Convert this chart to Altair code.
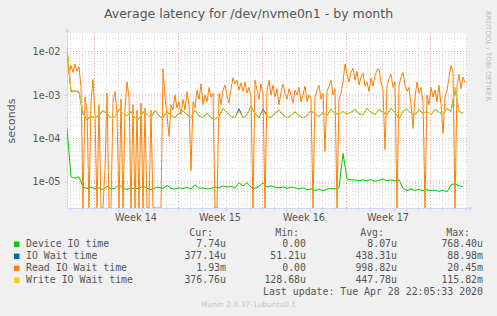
import altair as alt
import pandas as pd

TITLE = "Average latency for /dev/nvme0n1 - by month"
SERIES = ["Device IO time", "IO Wait time", "Read IO Wait time", "Write IO Wait time"]
COLORS = ["#00CC00", "#0066B3", "#FF8000", "#FFCC00"]
CUR = ["7.74u", "377.14u", "1.93m", "376.76u"]
MIN = ["0.00", "51.21u", "0.00", "128.68u"]
AVG = ["8.07u", "438.31u", "998.82u", "447.78u"]
MAX = ["768.40u", "88.98m", "20.45m", "115.82m"]
HEADERS = ["Cur:", "Min:", "Avg:", "Max:"]
WEEKS = ["Week 14", "Week 15", "Week 16", "Week 17"]
YTICKS = [1e-5, 1e-4, 1e-3, 1e-2]
LAST_UPDATE = "Last update: Tue Apr 28 22:05:33 2020"
FOOTER = "Munin 2.0.37-1ubuntu0.1"
WATERMARK = "RRDTOOL / TOBI OETIKER"

# time axis in days from the left edge of the graph
SPAN_DAYS = 400 / 12
FIRST_MIDNIGHT = 0.25
WEEK_START_DAYS = [2, 9, 16, 23, 30]   # Mondays (day index after first midnight)

# values in microseconds
# sampled every 8 hours
device_us = [170, 13, 12, 13, 7.5, 7, 7.5, 6.8, 7.2, 6.5,
             7.8, 6.8, 7, 8.5, 7, 6.6, 7.2, 6.8, 7, 8,
             7, 6.5, 7.2, 7.5, 7, 8.2, 7, 6.8, 7.2, 6.9,
             7.5, 6.7, 8.5, 7, 7.2, 6.8, 7, 7.5, 7.2, 8,
             7.5, 7.8, 7.2, 9.5, 8, 9.5, 7.5, 7, 7.8, 9.5,
             7.5, 8, 7.5, 7.2, 7.6, 7, 7.5, 7.2, 6.8, 7.2,
             6.5, 6.8, 6.3, 6.6, 6.2, 6.7, 7, 6.8, 7.2, 45,
             11.5, 11, 11, 10.5, 11, 10.5, 11.2, 10.2, 10.8, 11.5,
             10.5, 11, 10.5, 11, 7, 6.2, 6.8, 6.3, 6.6, 6.2,
             6.5, 6.2, 6.4, 6, 6.3, 5.8, 8.5, 9, 8, 7.74]

iowait_us = [12000, 1200, 1250, 1150, 380, 270, 320, 300, 340, 440,
             370, 300, 320, 470, 380, 330, 410, 300, 280, 410,
             360, 300, 440, 330, 300, 410, 340, 300, 380, 440,
             350, 300, 450, 330, 300, 380, 300, 280, 320, 490,
             400, 320, 300, 480, 300, 350, 540, 380, 300, 470,
             330, 300, 380, 450, 350, 300, 330, 410, 330, 300,
             330, 440, 360, 320, 400, 330, 470, 380, 350, 420,
             360, 400, 470, 370, 350, 490, 400, 350, 470, 400,
             350, 490, 400, 280, 420, 470, 380, 350, 450, 380,
             420, 350, 470, 400, 360, 490, 420, 1400, 420, 377]

write_us = [14000, 1250, 1250, 1200, 400, 280, 330, 300, 350, 450,
            380, 300, 320, 480, 380, 330, 420, 300, 280, 420,
            360, 300, 450, 330, 300, 420, 340, 300, 380, 450,
            350, 300, 460, 330, 300, 380, 300, 280, 320, 500,
            400, 320, 300, 420, 300, 350, 550, 380, 300, 420,
            330, 300, 380, 460, 350, 300, 330, 420, 330, 300,
            330, 450, 360, 320, 400, 330, 480, 380, 350, 420,
            360, 400, 480, 370, 350, 500, 400, 350, 480, 400,
            350, 500, 400, 280, 420, 480, 380, 350, 460, 380,
            420, 350, 480, 400, 360, 500, 420, 1500, 420, 377]

# sampled every 4 hours
read_us = [10000, 3000, 4800, 3300, 5200, 3500, 4500, 1500, 0, 900,
           450, 0, 700, 2300, 350, 0, 600, 0, 0, 20,
           1100, 0, 0, 700, 1200, 400, 0, 800, 0, 500,
           2000, 900, 0, 600, 0, 450, 0, 650, 0, 500,
           0, 0, 450, 0, 0, 0, 0, 0, 4000, 900,
           350, 110, 600, 450, 1000, 500, 700, 350, 800, 450,
           1200, 600, 18, 700, 500, 1300, 800, 1800, 600, 1000,
           700, 1500, 900, 1100, 0, 0, 1100, 600, 1300, 1700,
           1000, 650, 1400, 2500, 1800, 2200, 1300, 1900, 1200, 2000,
           1100, 1500, 900, 0, 2200, 1300, 800, 1800, 1100, 0,
           1200, 2200, 1000, 1700, 900, 1400, 600, 1200, 1800, 1100,
           800, 1400, 1000, 650, 1300, 1000, 1500, 700, 1000, 1600,
           700, 1000, 800, 0, 900, 1300, 1700, 800, 1100, 50,
           1200, 1600, 2200, 1000, 1400, 0, 800, 1100, 2000, 5200,
           3000, 2000, 3300, 4200, 2200, 3500, 1700, 2600, 3200, 1600,
           2000, 1200, 2500, 1600, 2800, 3800, 4000, 2000, 1300, 55,
           1600, 2400, 3000, 1500, 2000, 0, 1700, 2600, 3300, 1700,
           1200, 1500, 600, 170, 900, 2000, 1100, 1500, 700, 0,
           1000, 600, 1500, 900, 1300, 700, 1700, 600, 130, 900,
           1300, 2500, 4800, 3500, 0, 1600, 3000, 1400, 2600, 1930]

AXIS = "#CFD6F8"
FONT_C = "#555555"
GRID_C = "#d2d2d2"
MGRID_C = "#f0a0a0"
YDOM = [2.47e-6, 2.70e-2]


def series_df(vals, step):
    return pd.DataFrame({"t": [i * step for i in range(len(vals))], "us": vals})


x_enc = alt.X("t:Q",
              scale=alt.Scale(domain=[0, SPAN_DAYS], nice=False, zero=False),
              axis=alt.Axis(values=[FIRST_MIDNIGHT + k for k in range(34)], labels=False,
                            ticks=True, tickSize=3, tickColor=AXIS, domainColor=AXIS,
                            grid=False, title=None))
y_enc = alt.Y("v:Q",
              scale=alt.Scale(type="log", domain=YDOM, nice=False, clamp=True),
              axis=alt.Axis(values=YTICKS, labelExpr="'1e-0' + (-round(log(datum.value)/LN10))",
                            labelFont="DejaVu Sans", labelFontSize=9.7, labelColor=FONT_C,
                            labelPadding=4, tickSize=3, tickColor=AXIS, domainColor=AXIS,
                            grid=False, title="seconds", titleFont="DejaVu Sans",
                            titleFontSize=11, titleFontWeight="normal", titleColor=FONT_C,
                            titleAngle=270, titleX=-56, titleY=87.5, titleAlign="center",
                            titleBaseline="middle"))

# grid values
minor = [m * 10.0 ** e for e in range(-6, -1) for m in range(2, 10) if YDOM[0] <= m * 10.0 ** e <= YDOM[1]]
major = [10.0 ** e for e in range(-5, -1)]
days = [FIRST_MIDNIGHT + k for k in range(34) if k not in WEEK_START_DAYS]
weeks = [FIRST_MIDNIGHT + k for k in WEEK_START_DAYS]

layers = []
layers.append(alt.Chart(pd.DataFrame({"v": minor})).mark_rule(color=GRID_C, strokeDash=[1, 2], strokeWidth=1).encode(y=y_enc))
layers.append(alt.Chart(pd.DataFrame({"t": days})).mark_rule(color=GRID_C, strokeDash=[1, 2], strokeWidth=1, xOffset=0.5).encode(x=x_enc))
layers.append(alt.Chart(pd.DataFrame({"v": major})).mark_rule(color=MGRID_C, strokeDash=[1, 2], strokeWidth=1).encode(y=y_enc))
layers.append(alt.Chart(pd.DataFrame({"t": weeks})).mark_rule(color=MGRID_C, strokeDash=[1, 2], strokeWidth=1, xOffset=0.5).encode(x=x_enc))

for vals, step, col in [(device_us, 1 / 3, COLORS[0]), (iowait_us, 1 / 3, COLORS[1]),
                        (read_us, 1 / 6, COLORS[2]), (write_us, 1 / 3, COLORS[3])]:
    layers.append(
        alt.Chart(series_df(vals, step))
        .transform_calculate(v="max(datum.us, 0.001) * 1e-6")
        .mark_line(color=col, strokeWidth=1, clip=True, interpolate="linear")
        .encode(x=x_enc, y=y_enc)
    )

# week labels
wk = pd.DataFrame({"t": [FIRST_MIDNIGHT + d + 3.5 for d in WEEK_START_DAYS[:4]], "label": WEEKS})
layers.append(alt.Chart(wk).mark_text(font="DejaVu Sans", fontSize=9.7, color=FONT_C, baseline="middle")
              .encode(x=x_enc, y=alt.value(184.5), text="label:N"))

DUMMY = pd.DataFrame({"k": [0]})


def txt(s, x, y, size, align="left", font="DejaVu Sans Mono", color=FONT_C, angle=0):
    return (alt.Chart(DUMMY)
            .mark_text(text=s, align=align, baseline="middle", font=font, fontSize=size,
                       color=color, angle=angle)
            .encode(x=alt.value(x), y=alt.value(y)))


# axis arrows
layers.append(alt.Chart(DUMMY).mark_rule(color=AXIS, strokeWidth=1)
              .encode(x=alt.value(0.5), y=alt.value(-3), y2=alt.value(0)))
layers.append(alt.Chart(DUMMY).mark_rule(color=AXIS, strokeWidth=1)
              .encode(x=alt.value(400), x2=alt.value(404), y=alt.value(175.5)))
layers.append(alt.Chart(DUMMY).mark_point(shape="triangle-up", filled=True, color=AXIS, size=22, opacity=1)
              .encode(x=alt.value(0.5), y=alt.value(-3)))
layers.append(alt.Chart(DUMMY).mark_point(shape="triangle-right", filled=True, color=AXIS, size=22, opacity=1)
              .encode(x=alt.value(404), y=alt.value(175.5)))

# title, watermark, footer
layers.append(txt(TITLE, 181.5, -19.5, 12.5, align="center", font="DejaVu Sans"))
layers.append(txt(WATERMARK, 420.5, 23, 7, align="center", font="DejaVu Sans", color="#bbbbbb", angle=90))
layers.append(txt(FOOTER, 181.5, 272, 7.5, align="center", font="DejaVu Sans", color="#c4c4c4"))

# legend
HEADER_RIGHT = [146, 232, 317, 403]
VALUE_RIGHT = [159, 239, 330, 416]
for h, xr in zip(HEADERS, HEADER_RIGHT):
    layers.append(txt(h, xr, 200, 9.9, align="right"))
for r, name in enumerate(SERIES):
    yy = 211.3 + 12 * r
    layers.append(alt.Chart(DUMMY).mark_square(size=30, color=COLORS[r], opacity=1)
                  .encode(x=alt.value(-50.3), y=alt.value(yy)))
    layers.append(txt(name, -41, yy, 9.9))
    for vals, xr in zip([CUR, MIN, AVG, MAX], VALUE_RIGHT):
        layers.append(txt(vals[r], xr, yy, 9.9, align="right"))
layers.append(txt(LAST_UPDATE, 416, 259, 9.9, align="right"))

chart = alt.layer(*layers).properties(
    width=400, height=175,
    autosize=alt.AutoSizeParams(type="none"),
    padding={"left": 67, "top": 33, "right": 30, "bottom": 108},
    background="#F0F0F0",
).configure_view(fill="white", stroke=None)

chart.save("out.html", embed_options={"renderer": "svg", "actions": False})
